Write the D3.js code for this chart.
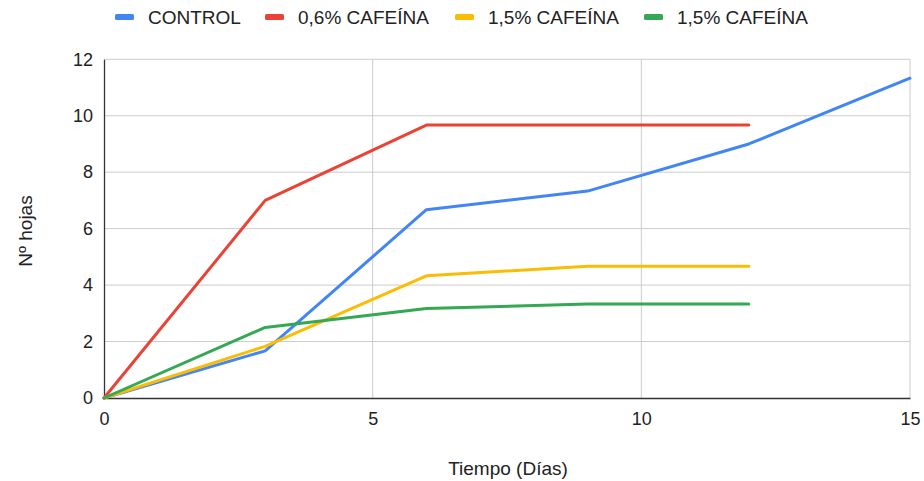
<!DOCTYPE html>
<html><head><meta charset="utf-8">
<script src="https://cdn.jsdelivr.net/npm/d3@7"></script>
<style>body{margin:0;background:#fff;font-family:Arial,"Liberation Sans",sans-serif;}</style>
</head><body><svg id="c" width="924" height="481"></svg>
<script>
const days = [0, 3, 6, 9, 12, 15];
const seriesNames = ["CONTROL", "0,6% CAFEÍNA", "1,5% CAFEÍNA", "1,5% CAFEÍNA"];
const control = [0, 1.67, 6.67, 7.33, 9, 11.33];
const caf06 = [0, 7, 9.67, 9.67, 9.67];
const caf15a = [0, 1.83, 4.33, 4.67, 4.67];
const caf15b = [0, 2.5, 3.17, 3.33, 3.33];
const colors = ["#4285f4", "#ea4335", "#fbbc04", "#34a853"];
const xTicks = [0, 5, 10, 15];
const yTicks = [0, 2, 4, 6, 8, 10, 12];

const FF = "Arial, Liberation Sans, sans-serif";
const svg = d3.select("#c");
const m = {l:104, r:910, t:59.3, b:398};
const x = d3.scaleLinear().domain([0,15]).range([m.l, m.r]);
const y = d3.scaleLinear().domain([0,12]).range([m.b, m.t]);

// grid
svg.append("g").selectAll("line").data(yTicks.slice(1)).join("line")
  .attr("x1", m.l).attr("x2", m.r).attr("y1", d=>y(d)).attr("y2", d=>y(d))
  .attr("stroke", "#cccccc").attr("stroke-width", 1);
svg.append("g").selectAll("line").data(xTicks.slice(1)).join("line")
  .attr("y1", m.t).attr("y2", m.b).attr("x1", d=>x(d)).attr("x2", d=>x(d))
  .attr("stroke", "#cccccc").attr("stroke-width", 1);

// axes
const xa = svg.append("g").attr("transform", `translate(0,${m.b})`)
  .call(d3.axisBottom(x).tickValues(xTicks).tickSize(0).tickPadding(14).tickFormat(d3.format("d")));
xa.select(".domain").attr("stroke", "#333").attr("stroke-width", 1.3);
xa.selectAll("text").attr("font-size", 18).attr("fill", "#222").attr("font-family", FF);
const ya = svg.append("g").attr("transform", `translate(${m.l},0)`)
  .call(d3.axisLeft(y).tickValues(yTicks).tickSize(0).tickPadding(11).tickFormat(d3.format("d")));
ya.select(".domain").attr("stroke", "#333").attr("stroke-width", 1.3);
ya.selectAll("text").attr("font-size", 18).attr("fill", "#222").attr("font-family", FF);

// lines
const data = [control, caf06, caf15a, caf15b];
const line = d3.line().x((d,i)=>x(days[i])).y(d=>y(d));
svg.append("g").selectAll("path").data(data).join("path")
  .attr("d", d=>line(d)).attr("fill","none")
  .attr("stroke", (d,i)=>colors[i]).attr("stroke-width", 3)
  .attr("stroke-linejoin","round").attr("stroke-linecap","round");

// titles
svg.append("text").attr("x", 508).attr("y", 475).attr("text-anchor","middle")
  .attr("font-size", 19).attr("fill","#222").attr("font-family", FF).text("Tiempo (Días)");
svg.append("text").attr("transform", "translate(32,231) rotate(-90)").attr("text-anchor","middle")
  .attr("font-size", 19).attr("fill","#222").attr("font-family", FF).text("Nº hojas");

// legend
const legX = [115, 265, 455, 644];
const lg = svg.append("g").selectAll("g").data(seriesNames).join("g")
  .attr("transform", (d,i)=>`translate(${legX[i]},17)`);
lg.append("rect").attr("x",0).attr("y",-3).attr("width",19).attr("height",6).attr("rx",1.5)
  .attr("fill",(d,i)=>colors[i]);
lg.append("text").attr("x",33).attr("y",7).attr("font-size",19).attr("fill","#222")
  .attr("font-family", FF).text(d=>d);
</script></body></html>
